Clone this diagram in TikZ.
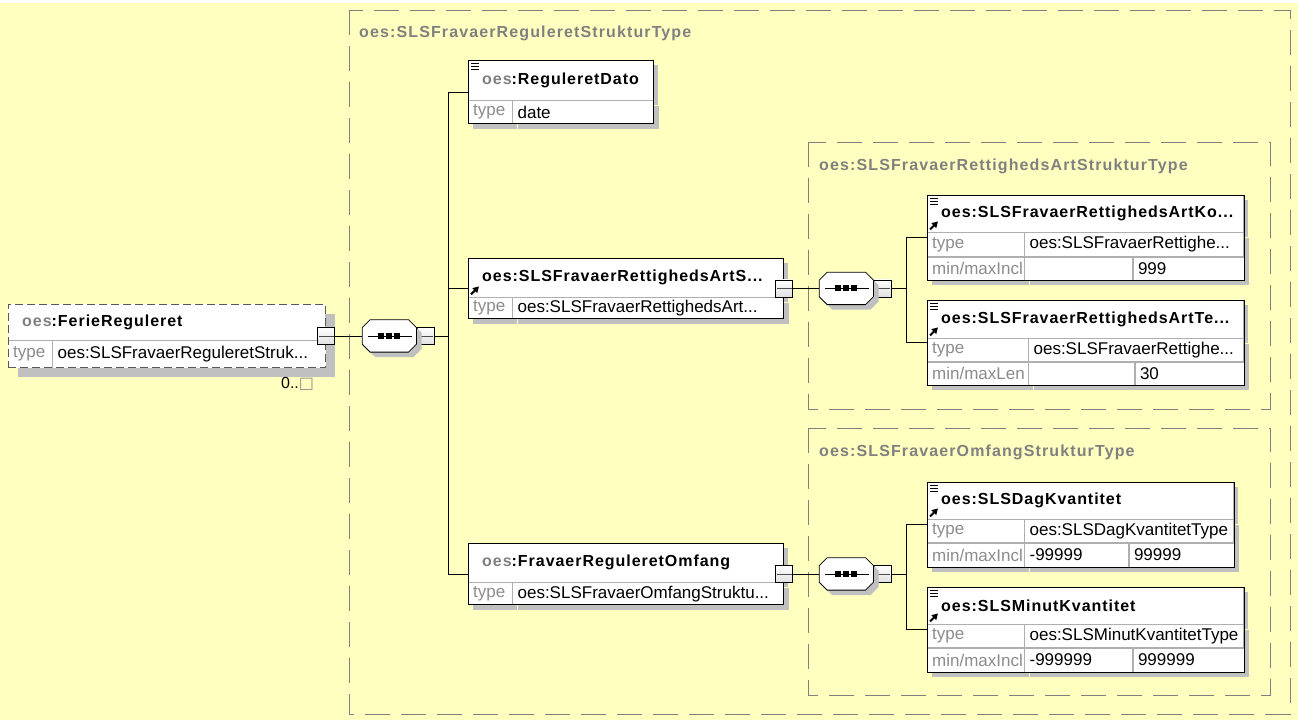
\documentclass[tikz,border=0pt]{standalone}
\usepackage{fontspec}
\setmainfont{Liberation Sans}
\newfontfamily\headfont[LetterSpace=6]{Liberation Sans}
\newfontfamily\grpfont[LetterSpace=7]{Liberation Sans}
\newfontfamily\symfont{DejaVu Sans}
\usetikzlibrary{positioning,fit,shadows,arrows.meta}
\definecolor{bgyellow}{RGB}{255,255,192}
\definecolor{grpgray}{RGB}{128,128,128}
\definecolor{oesgray}{RGB}{128,128,128}
\definecolor{typegray}{RGB}{140,140,140}
\definecolor{linegray}{RGB}{175,175,175}
\definecolor{shadowgray}{RGB}{192,192,192}
\tikzset{
  boxshadow/.style={drop shadow={shadow xshift=5pt,shadow yshift=-5pt,opacity=1,fill=shadowgray}},
  head/.style={draw=linegray, fill=white, anchor=north west, inner xsep=14pt, inner ysep=0pt, align=left,
    font=\headfont\bfseries\fontsize{16}{18}\selectfont, minimum width=#1, text width=#1-28pt},
  cell/.style={draw=linegray, fill=white, anchor=north west, inner xsep=5pt, inner ysep=0pt, align=left,
    font=\fontsize{17}{19}\selectfont, minimum width=#1, text width=#1-10pt},
  outline/.style={draw=black, line width=0.9pt, inner sep=0pt},
  rootline/.style={draw=black!65, line width=0.9pt, dash pattern=on 8pt off 4pt, inner sep=0pt},
  grp/.style={draw=grpgray, line width=0.9pt, dash pattern=on 25pt off 11pt},
  grplabel/.style={anchor=west, inner sep=0pt, text=grpgray, font=\grpfont\bfseries\fontsize{16}{18}\selectfont},
  seq/.style={minimum width=54pt, minimum height=32pt, inner sep=0pt},
  mbox/.style={draw=black, line width=0.8pt, minimum size=17pt, inner sep=0pt, top color=white, bottom color=black!12,
    path picture={\draw[black!70, line width=0.8pt] ([xshift=1pt]path picture bounding box.west) -- ([xshift=-1pt]path picture bounding box.east);}},
  conn/.style={draw=black, line width=0.8pt},
  refarrow/.style={-{Triangle[length=6pt,width=6.5pt]}, line width=2pt},
  docline/.style={line width=0.7pt},
}
\begin{document}
\begin{tikzpicture}[x=1pt,y=-1pt]
\useasboundingbox (0,0) rectangle (1298,720);
\fill[bgyellow] (0,3) rectangle (1298,720);
% complex types
\draw[grp] (349,10) rectangle (1290,714);
\node[grplabel] (grpmain) at (359,33) {oes:SLSFravaerReguleretStrukturType};
\draw[grp] (808,142) rectangle (1270,409);
\node[grplabel] (grpart) at (819,166) {oes:SLSFravaerRettighedsArtStrukturType};
\draw[grp] (808,428) rectangle (1270,695);
\node[grplabel] (grpomf) at (819,452) {oes:SLSFravaerOmfangStrukturType};
% root element
\fill[shadowgray] (18,314) rectangle (335,377);
\node[head=317pt, draw=none, minimum height=36pt] (ferie) at (8,304) {\textcolor{oesgray}{oes}:FerieReguleret};
\node[cell=44pt, draw=none, minimum height=27pt] (ferie-t) at (ferie.south west) {\textcolor{typegray}{type}};
\node[cell=273pt, draw=none, minimum height=27pt] (ferie-v) at (ferie-t.north east) {oes:SLSFravaerReguleretStruk...};
\draw[linegray] (ferie.south west) -- (ferie.south east);
\draw[linegray] (ferie-t.north east) -- (ferie-t.south east);
\node[rootline, fit=(ferie)(ferie-v)] (feriebox) {};
\node[mbox] (ferie-m) at (feriebox.east) {};
\node[anchor=north east, inner sep=0pt, font=\fontsize{16}{18}\selectfont] (ferie-occ) at ([shift={(-12,9)}]feriebox.south east) {0..{\color{black!45}\symfont □}};
% sequences
\node[seq, right=27pt of ferie-m] (seqa) {};
\node[mbox, anchor=west] (seqa-m) at (seqa.east) {};
% ReguleretDato
\node[head=185pt, boxshadow, minimum height=40pt] (dato) at (468,60) {\textcolor{oesgray}{oes}:ReguleretDato};
\node[cell=44pt, boxshadow, minimum height=23pt] (dato-t) at (dato.south west) {\textcolor{typegray}{type}};
\node[cell=141pt, boxshadow, minimum height=23pt] (dato-v) at (dato-t.north east) {date};
\node[outline, fit=(dato)(dato-v)] (datobox) {};
% SLSFravaerRettighedsArtStruktur
\node[head=315pt, boxshadow, minimum height=39pt] (artref) at (468,258) {oes:SLSFravaerRettighedsArtS...};
\node[cell=44pt, boxshadow, minimum height=21pt] (artref-t) at (artref.south west) {\textcolor{typegray}{type}};
\node[cell=271pt, boxshadow, minimum height=21pt] (artref-v) at (artref-t.north east) {oes:SLSFravaerRettighedsArt...};
\node[outline, fit=(artref)(artref-v)] (artrefbox) {};
\node[mbox] (artref-m) at (artrefbox.east) {};
% FravaerReguleretOmfang
\node[head=315pt, boxshadow, minimum height=39pt] (omf) at (468,543) {\textcolor{oesgray}{oes}:FravaerReguleretOmfang};
\node[cell=44pt, boxshadow, minimum height=22pt] (omf-t) at (omf.south west) {\textcolor{typegray}{type}};
\node[cell=271pt, boxshadow, minimum height=22pt] (omf-v) at (omf-t.north east) {oes:SLSFravaerOmfangStruktu...};
\node[outline, fit=(omf)(omf-v)] (omfbox) {};
\node[mbox] (omf-m) at (omfbox.east) {};
\node[seq, right=26pt of artref-m] (seqb) {};
\node[mbox, anchor=west] (seqb-m) at (seqb.east) {};
\node[seq, right=26pt of omf-m] (seqc) {};
\node[mbox, anchor=west] (seqc-m) at (seqc.east) {};
% SLSFravaerRettighedsArtKode
\node[head=316pt, boxshadow, minimum height=37pt] (artko) at (927,195) {oes:SLSFravaerRettighedsArtKo...};
\node[cell=97pt, boxshadow, minimum height=24pt] (artko-t) at (artko.south west) {\textcolor{typegray}{type}};
\node[cell=219pt, boxshadow, minimum height=24pt] (artko-v) at (artko-t.north east) {oes:SLSFravaerRettighe...};
\node[cell=97pt, boxshadow, minimum height=23pt] (artko-r) at (artko-t.south west) {\textcolor{typegray}{min/maxIncl}};
\node[cell=108pt, boxshadow, minimum height=23pt] (artko-a) at (artko-r.north east) {};
\node[cell=111pt, boxshadow, minimum height=23pt] (artko-b) at (artko-a.north east) {999};
\node[outline, fit=(artko)(artko-b)] (artkobox) {};
% SLSFravaerRettighedsArtTekst
\node[head=316pt, boxshadow, minimum height=38pt] (artte) at (927,300) {oes:SLSFravaerRettighedsArtTe...};
\node[cell=101pt, boxshadow, minimum height=23pt] (artte-t) at (artte.south west) {\textcolor{typegray}{type}};
\node[cell=215pt, boxshadow, minimum height=23pt] (artte-v) at (artte-t.north east) {oes:SLSFravaerRettighe...};
\node[cell=101pt, boxshadow, minimum height=23pt] (artte-r) at (artte-t.south west) {\textcolor{typegray}{min/maxLen}};
\node[cell=106pt, boxshadow, minimum height=23pt] (artte-a) at (artte-r.north east) {};
\node[cell=109pt, boxshadow, minimum height=23pt] (artte-b) at (artte-a.north east) {30};
\node[outline, fit=(artte)(artte-b)] (arttebox) {};
% SLSDagKvantitet
\node[head=306pt, boxshadow, minimum height=37pt] (dag) at (927,482) {oes:SLSDagKvantitet};
\node[cell=97pt, boxshadow, minimum height=23pt] (dag-t) at (dag.south west) {\textcolor{typegray}{type}};
\node[cell=209pt, boxshadow, minimum height=23pt] (dag-v) at (dag-t.north east) {oes:SLSDagKvantitetType};
\node[cell=97pt, boxshadow, minimum height=24pt] (dag-r) at (dag-t.south west) {\textcolor{typegray}{min/maxIncl}};
\node[cell=104pt, boxshadow, minimum height=24pt] (dag-a) at (dag-r.north east) {-99999};
\node[cell=105pt, boxshadow, minimum height=24pt] (dag-b) at (dag-a.north east) {99999};
\node[outline, fit=(dag)(dag-b)] (dagbox) {};
% SLSMinutKvantitet
\node[head=316pt, boxshadow, minimum height=37pt] (minut) at (927,587) {oes:SLSMinutKvantitet};
\node[cell=97pt, boxshadow, minimum height=23pt] (minut-t) at (minut.south west) {\textcolor{typegray}{type}};
\node[cell=219pt, boxshadow, minimum height=23pt] (minut-v) at (minut-t.north east) {oes:SLSMinutKvantitetType};
\node[cell=97pt, boxshadow, minimum height=24pt] (minut-r) at (minut-t.south west) {\textcolor{typegray}{min/maxIncl}};
\node[cell=108pt, boxshadow, minimum height=24pt] (minut-a) at (minut-r.north east) {-999999};
\node[cell=111pt, boxshadow, minimum height=24pt] (minut-b) at (minut-a.north east) {999999};
\node[outline, fit=(minut)(minut-b)] (minutbox) {};
% octagons
\foreach \s in {seqa,seqb,seqc} {
  \draw[fill=white, line width=0.8pt, boxshadow] ([shift={(8,0)}]\s.north west) -- ([shift={(-8,0)}]\s.north east)
    -- ([shift={(0,8)}]\s.north east) -- ([shift={(0,-8)}]\s.south east) -- ([shift={(-8,0)}]\s.south east)
    -- ([shift={(8,0)}]\s.south west) -- ([shift={(0,-8)}]\s.south west) -- ([shift={(0,8)}]\s.north west) -- cycle;
  \draw[line width=0.8pt] ([shift={(6,0)}]\s.west) -- ([shift={(-5,0)}]\s.east);
  \foreach \d in {-8,0,8}
    \fill ([shift={(\d-3,-3)}]\s.center) rectangle ++(6,6);
}
% icons
\foreach \e in {dato,artko,artte,dag,minut}
  \foreach \k in {0,3,6}
    \draw[docline] ([shift={(3,3+\k)}]\e.north west) -- ++(8,0);
\foreach \e in {artref,artko,artte,dag,minut}
  \draw[refarrow] ([shift={(3,-3)}]\e.south west) -- ++(8,-8);
% connectors
\coordinate[right=14pt of seqa-m] (forka);
\coordinate[right=15pt of seqb-m] (forkb);
\coordinate[right=15pt of seqc-m] (forkc);
\draw[conn] (ferie-m) -- (seqa);
\draw[conn] (seqa-m) -- (forka);
\draw[conn] (datobox.west) -| (forka) |- (omfbox.west);
\draw[conn] (forka) |- (artrefbox.west);
\draw[conn] (artref-m) -- (seqb);
\draw[conn] (seqb-m) -- (forkb);
\draw[conn] (artkobox.west) -| (forkb) |- (arttebox.west);
\draw[conn] (omf-m) -- (seqc);
\draw[conn] (seqc-m) -- (forkc);
\draw[conn] (dagbox.west) -| (forkc) |- (minutbox.west);
\end{tikzpicture}
\end{document}
